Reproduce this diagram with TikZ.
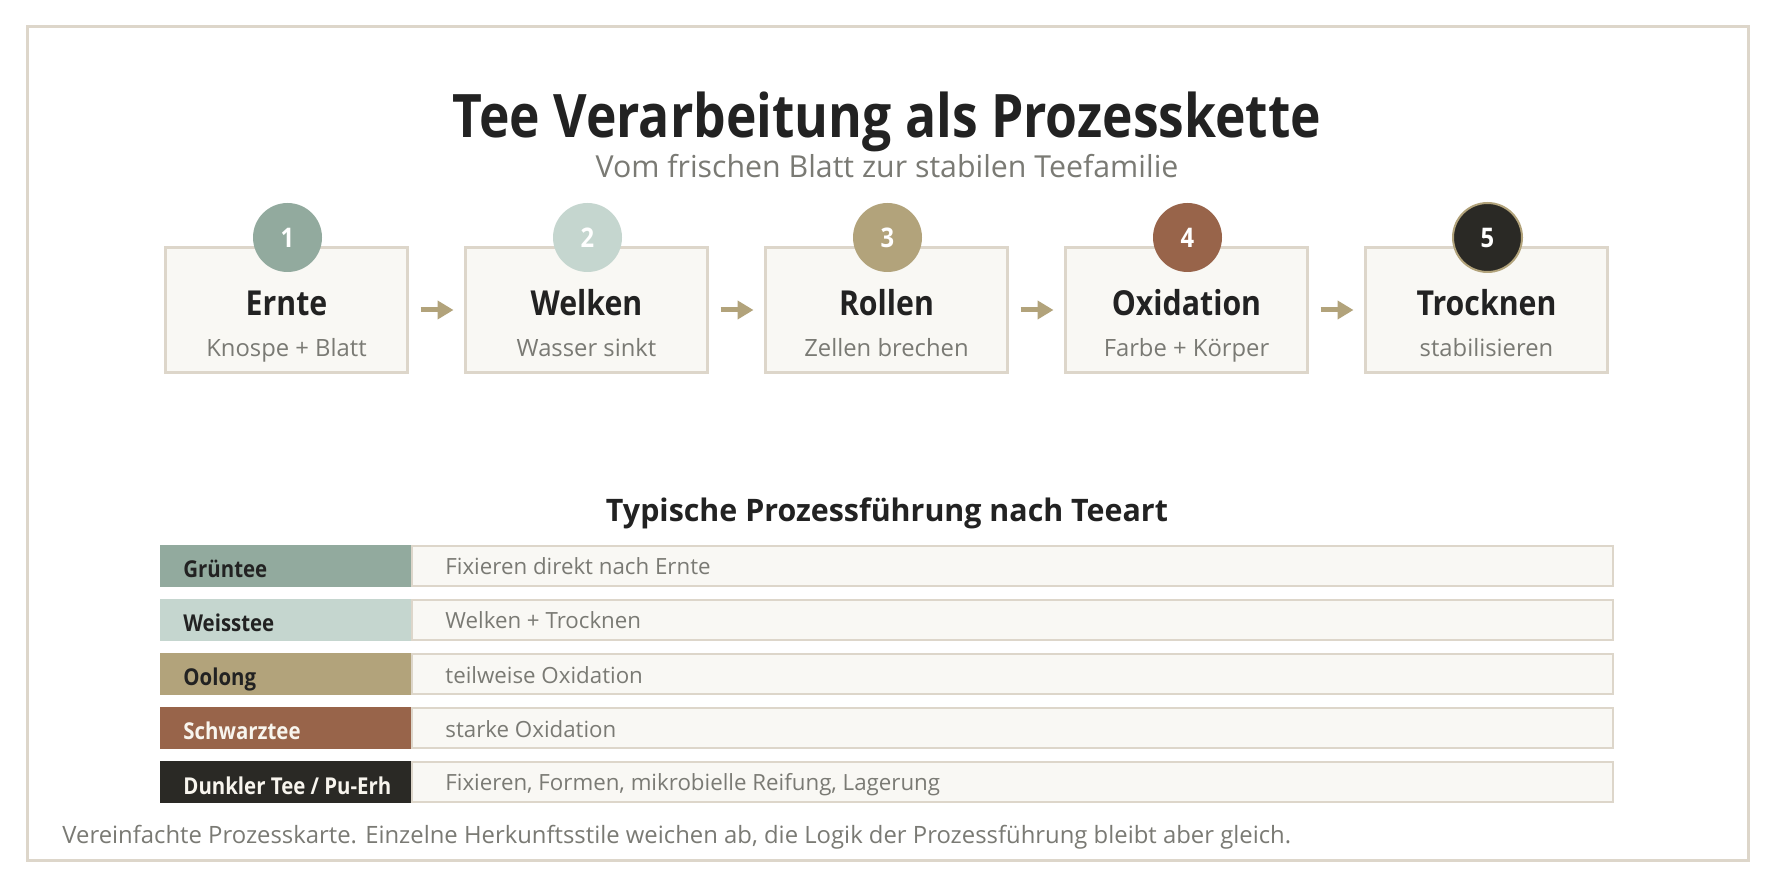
\documentclass[tikz,border=0pt]{standalone}
\usepackage{fontspec}
\setmainfont{Open Sans}
\newfontfamily\condfont{Open Sans}[FakeStretch=0.88]
\newfontfamily\titlefont{Open Sans}[FakeStretch=0.86]
\newfontfamily\headfont{Open Sans}[FakeStretch=0.98]
\usetikzlibrary{arrows.meta}
\definecolor{framec}{RGB}{221,214,202}
\definecolor{boxfill}{RGB}{249,248,244}
\definecolor{sage}{RGB}{146,170,158}
\definecolor{lightsage}{RGB}{197,214,207}
\definecolor{tan}{RGB}{178,163,123}
\definecolor{brown}{RGB}{152,100,74}
\definecolor{darkc}{RGB}{42,41,37}
\definecolor{textdark}{RGB}{34,34,34}
\definecolor{graytext}{RGB}{122,122,116}
\definecolor{lighttext}{RGB}{248,245,238}
\begin{document}
\begin{tikzpicture}[x=0.5pt,y=-0.5pt,
  stepbox/.style={draw=framec, line width=1.5pt, fill=boxfill, minimum width=121pt, minimum height=62.5pt, inner sep=0pt},
  numc/.style={circle, minimum size=34.5pt, inner sep=0pt, text=white, font=\condfont\bfseries\fontsize{13.5}{14}\selectfont},
  steptitle/.style={anchor=base, inner sep=0pt, text=textdark, font=\condfont\bfseries\fontsize{17.2}{18}\selectfont},
  stepsub/.style={anchor=base, inner sep=0pt, text=graytext, font=\fontsize{11.9}{14}\selectfont},
  flow/.style={draw=tan, line width=2.5pt, -{Triangle[length=8pt,width=9pt]}, shorten <=5.75pt, shorten >=5.25pt},
  labelblk/.style={minimum width=125.5pt, minimum height=21pt, inner sep=0pt},
  descbox/.style={draw=framec, line width=1pt, fill=boxfill, minimum width=600.5pt, minimum height=20pt, inner sep=0pt},
  labeltext/.style={anchor=base west, inner sep=0pt, font=\condfont\bfseries\fontsize{11.6}{12}\selectfont},
  desctext/.style={anchor=base west, inner sep=0pt, text=graytext, font=\fontsize{11.15}{12}\selectfont}
]
\useasboundingbox (0,0) rectangle (1774,887);
\fill[white] (0,0) rectangle (1774,887);
\draw[framec, line width=1.5pt] (27,27) rectangle (1748,860);

% titles
\node[anchor=base, inner sep=0pt, text=textdark, font=\titlefont\bfseries\fontsize{30}{32}\selectfont] (title) at (887,138) {Tee Verarbeitung als Prozesskette};
\node[anchor=base, inner sep=0pt, text=graytext, font=\fontsize{15.15}{17}\selectfont] (subtitle) at (887,178) {Vom frischen Blatt zur stabilen Teefamilie};

% steps
\node[stepbox] (s1) at (286.5,310) {};
\node[stepbox] (s2) at (586.5,310) {};
\node[stepbox] (s3) at (886.5,310) {};
\node[stepbox] (s4) at (1186.5,310) {};
\node[stepbox] (s5) at (1486.5,310) {};

\node[numc, fill=sage] (n1) at (287.5,237.5) {1};
\node[numc, fill=lightsage] (n2) at (587.5,237.5) {2};
\node[numc, fill=tan] (n3) at (887.5,237.5) {3};
\node[numc, fill=brown] (n4) at (1187.5,237.5) {4};
\node[numc, fill=darkc, draw=tan, line width=1pt] (n5) at (1487.5,237.5) {5};

\node[steptitle] (t1) at (286.5,316) {Ernte};
\node[steptitle] (t2) at (586.5,316) {Welken};
\node[steptitle] (t3) at (886.5,316) {Rollen};
\node[steptitle] (t4) at (1186.5,316) {Oxidation};
\node[steptitle] (t5) at (1486.5,316) {Trocknen};

\node[stepsub] (u1) at (286.5,357) {Knospe + Blatt};
\node[stepsub] (u2) at (586.5,357) {Wasser sinkt};
\node[stepsub] (u3) at (886.5,357) {Zellen brechen};
\node[stepsub] (u4) at (1186.5,357) {Farbe + Körper};
\node[stepsub] (u5) at (1486.5,357) {stabilisieren};

\draw[flow] (s1.east) -- (s2.west);
\draw[flow] (s2.east) -- (s3.west);
\draw[flow] (s3.east) -- (s4.west);
\draw[flow] (s4.east) -- (s5.west);

% table
\node[anchor=base, inner sep=0pt, text=textdark, font=\headfont\bfseries\fontsize{15.5}{17}\selectfont] (ttitle) at (887,522) {Typische Prozessführung nach Teeart};

\node[descbox] (d1) at (1012.5,566) {};
\node[descbox] (d2) at (1012.5,620) {};
\node[descbox] (d3) at (1012.5,674) {};
\node[descbox] (d4) at (1012.5,728) {};
\node[descbox] (d5) at (1012.5,782) {};

\node[labelblk, fill=sage] (b1) at (285.5,566) {};
\node[labelblk, fill=lightsage] (b2) at (285.5,620) {};
\node[labelblk, fill=tan] (b3) at (285.5,674) {};
\node[labelblk, fill=brown] (b4) at (285.5,728) {};
\node[labelblk, fill=darkc] (b5) at (285.5,782) {};

\node[labeltext, text=textdark] (l1) at (183,578) {Grüntee};
\node[labeltext, text=textdark] (l2) at (183,632) {Weisstee};
\node[labeltext, text=textdark] (l3) at (183,686) {Oolong};
\node[labeltext, text=lighttext] (l4) at (183,740) {Schwarztee};
\node[labeltext, text=lighttext] (l5) at (183,794) {Dunkler Tee / Pu-Erh};

\node[desctext] (e1) at (445,575) {Fixieren direkt nach Ernte};
\node[desctext] (e2) at (445,629) {Welken + Trocknen};
\node[desctext] (e3) at (445,683) {teilweise Oxidation};
\node[desctext] (e4) at (445,737) {starke Oxidation};
\node[desctext] (e5) at (445,791) {Fixieren, Formen, mikrobielle Reifung, Lagerung};

\node[anchor=base west, inner sep=0pt, text=graytext, font=\fontsize{11.93}{13}\selectfont] (footer) at (62,843) {Vereinfachte Prozesskarte. Einzelne Herkunftsstile weichen ab, die Logik der Prozessführung bleibt aber gleich.};
\end{tikzpicture}
\end{document}
